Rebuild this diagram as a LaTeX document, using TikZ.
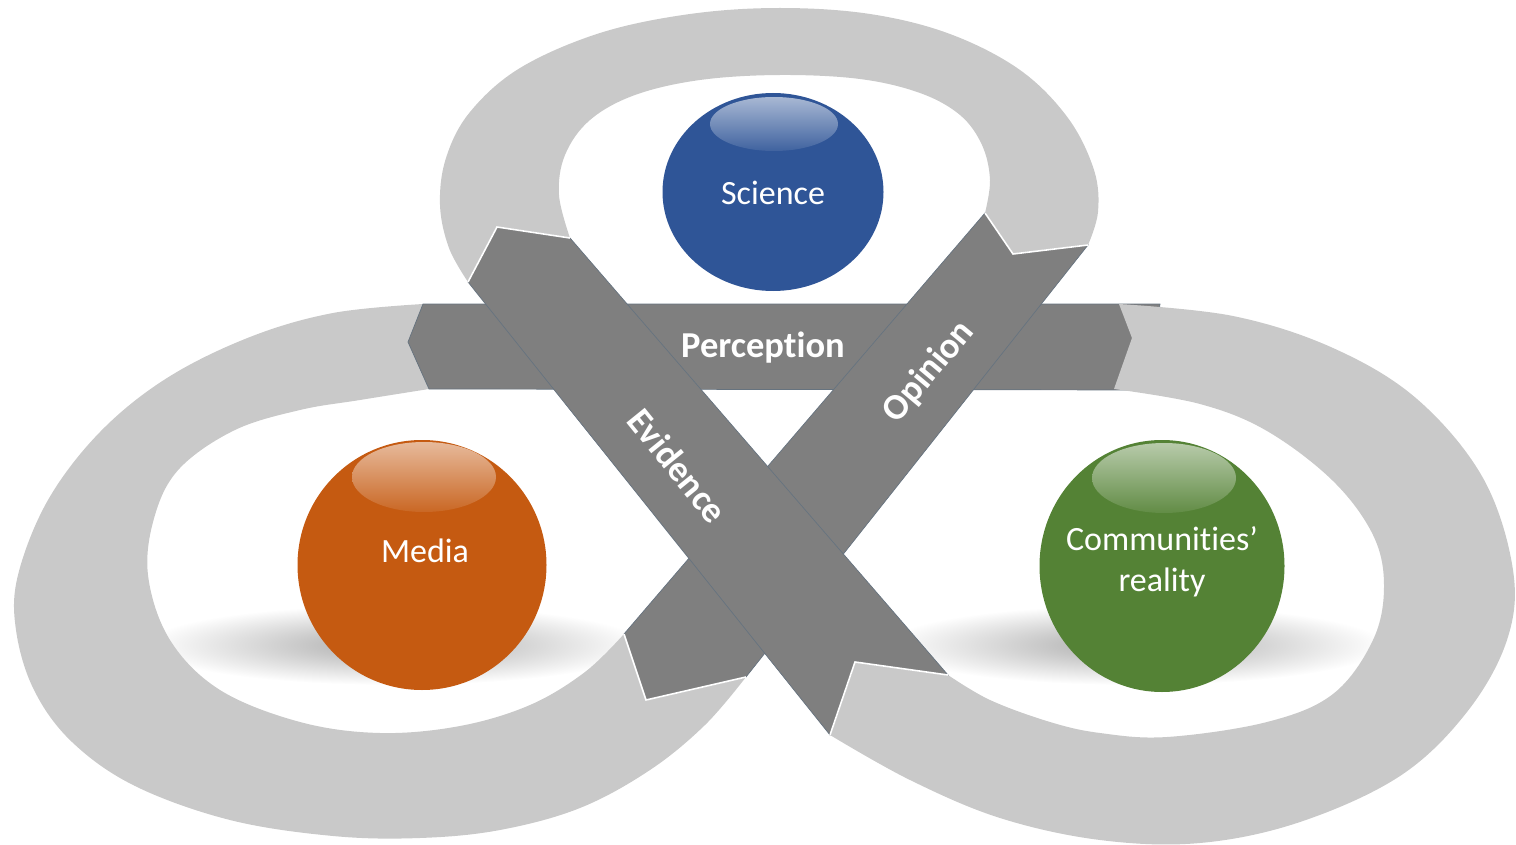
\documentclass[tikz,border=0pt]{standalone}
\usepackage{fontspec}
\setmainfont{Carlito}[Ligatures=NoCommon]
\usetikzlibrary{shapes.geometric}
\definecolor{bandgray}{HTML}{C9C9C9}
\definecolor{ribgray}{HTML}{7F7F7F}
\definecolor{ribedge}{HTML}{66737F}
\definecolor{sciblue}{HTML}{2F5597}
\definecolor{medorange}{HTML}{C55A11}
\definecolor{comgreen}{HTML}{548235}
\begin{document}
\begin{tikzpicture}[x=1pt,y=-1pt,
  band/.style={fill=bandgray},
  ribbon/.style={fill=ribgray, draw=ribedge, line width=0.7pt, line join=miter},
  ribend/.style={draw=white, line width=1.6pt, line join=miter},
  sphere/.style={ellipse, inner sep=0pt, draw=none},
  shadowblob/.style={inner color=black!34, outer color=white},
  lbl/.style={text=white, font=\fontsize{34}{41}\selectfont, align=center},
  riblbl/.style={text=white, font=\bfseries\fontsize{36.5}{40}\selectfont}]
\useasboundingbox (0,0) rectangle (1516,845);

% soft shadows (under everything)
\shade[shadowblob] (395,645) ellipse [x radius=250, y radius=40];
\shade[shadowblob] (1135,645) ellipse [x radius=250, y radius=40];

% top loop
\fill[band] plot[smooth,tension=0.6] coordinates {(468,282) (449,248) (440,205) (446,158) (470,112) (520,68) (600,33) (690,14) (780,8) (870,14) (950,34) (1020,70) (1068,118) (1094,170) (1098,212) (1088,245)}
  -- (1013,266) -- (985,213)
  -- plot[smooth,tension=0.6] coordinates {(985,213) (990,180) (982,145) (960,115) (920,93) (860,79) (780,75) (700,80) (635,95) (590,120) (565,155) (559,195) (570,238)} -- cycle;

% left loop
\fill[band] plot[smooth,tension=0.6] coordinates {(423,304) (333,313) (250,337) (167,378) (100,432) (48,500) (18,575) (16,630) (34,690) (72,742) (135,786) (230,820) (333,836) (420,838) (500,830) (580,808) (650,770) (705,725) (746,677)}
  -- (624,634)
  -- plot[smooth,tension=0.6] coordinates {(624,634) (585,672) (530,705) (460,726) (380,733) (300,722) (220,690) (170,640) (148,575) (155,515) (180,468) (235,430) (300,410) (360,400) (429,389)} -- cycle;

% spheres
\node[sphere, fill=sciblue, minimum width=221pt, minimum height=198pt] (science) at (773,192) {};
\node[sphere, fill=medorange, minimum width=249pt, minimum height=250pt] (media) at (422,565) {};
\node[sphere, fill=comgreen, minimum width=245pt, minimum height=252pt] (community) at (1162,566) {};
\shade[top color=sciblue!42!white, bottom color=sciblue!92!white] (774,124) ellipse [x radius=64, y radius=27];
\shade[top color=medorange!42!white, bottom color=medorange!92!white] (424,477) ellipse [x radius=72, y radius=35];
\shade[top color=comgreen!42!white, bottom color=comgreen!92!white] (1164,478) ellipse [x radius=72, y radius=35];
\node[lbl] (scitext) at (773,193) {Science};
\node[lbl] (medtext) at (425,551) {Media};
\node[lbl] (comtext) at (1162,562) {Communities’\\reality};

% Perception ribbon
\filldraw[ribbon] (408,342) -- (423,304) -- (1160,304) -- (1150,390) -- (429,389) -- cycle;

% right loop
\fill[band] plot[smooth,tension=0.6] coordinates {(1119,304) (1233,316) (1333,348) (1417,399) (1483,478) (1513,570) (1507,640) (1467,712) (1400,776) (1300,822) (1200,843) (1100,840) (1000,818) (910,780) (830,735)}
  -- (850,650) -- (948,675)
  -- plot[smooth,tension=0.6] coordinates {(948,675) (990,700) (1050,722) (1100,733) (1167,737) (1267,722) (1333,694) (1373,640) (1384,586) (1373,535) (1333,481) (1267,431) (1200,404) (1114,389)}
  -- (1132,338) -- cycle;

% Opinion ribbon
\filldraw[ribbon] (985,213) -- (1013,254) -- (1088,245) -- (746,677) -- (646,700) -- (624,634) -- cycle;
\draw[ribend] (985,213) -- (1013,254) -- (1088,245);
\draw[ribend] (624,634) -- (646,700) -- (746,677);

% Evidence ribbon
\filldraw[ribbon] (497,227) -- (570,238) -- (948,675) -- (855,662) -- (830,735) -- (468,282) -- cycle;
\draw[ribend] (468,282) -- (497,227) -- (570,238);
\draw[ribend] (830,735) -- (855,662) -- (948,675);

% ribbon labels
\node[riblbl] (perception) at (763,348) {Perception};
\node[riblbl, rotate=-51] (evidence) at (678,466) {Evidence};
\node[riblbl, rotate=50] (opinion) at (929,372) {Opinion};
\end{tikzpicture}
\end{document}
